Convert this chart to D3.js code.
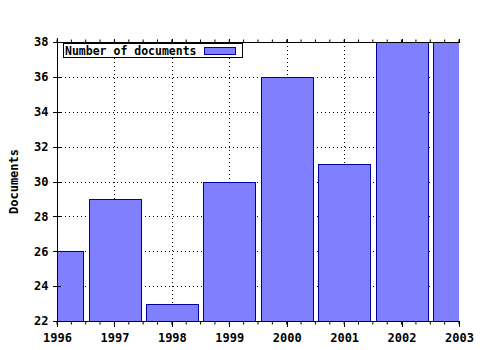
<!DOCTYPE html>
<html>
<head>
<meta charset="utf-8">
<script src="https://cdn.jsdelivr.net/npm/d3@7"></script>
<style>
  body { margin: 0; background: #fff; }
  text { font-family: "DejaVu Sans Mono", "Liberation Mono", monospace; font-weight: bold; }
</style>
</head>
<body>
<svg id="chart" width="480" height="350"></svg>
<script>
const years = [1996, 1997, 1998, 1999, 2000, 2001, 2002, 2003]
const documents = [26, 29, 23, 30, 36, 31, 38, 38]
const yTicks = [22, 24, 26, 28, 30, 32, 34, 36, 38]
const seriesName = 'Number of documents'

const pL = 57, pR = 459, pT = 42, pB = 321
const svg = d3.select('#chart')

const x = d3.scaleLinear().domain([1996, 2003]).range([pL, pR])
const y = d3.scaleLinear().domain([22, 38]).range([pB, pT])
const barW = (x(1997) - x(1996)) * 0.9

svg.append('clipPath').attr('id', 'plot')
  .append('rect').attr('x', pL).attr('y', pT).attr('width', pR - pL).attr('height', pB - pT)

// grid
const grid = svg.append('g').attr('stroke', '#000').attr('stroke-dasharray', '1,3').attr('shape-rendering', 'crispEdges')
grid.selectAll('.gy').data(yTicks.slice(1, -1)).enter().append('line')
  .attr('x1', pL).attr('x2', pR).attr('y1', d => y(d) + 0.5).attr('y2', d => y(d) + 0.5)
grid.selectAll('.gx').data(years.slice(1, -1)).enter().append('line')
  .attr('y1', pT).attr('y2', pB).attr('x1', d => Math.round(x(d)) + 0.5).attr('x2', d => Math.round(x(d)) + 0.5)

// bars
svg.append('g').attr('clip-path', 'url(#plot)')
  .selectAll('rect').data(years).enter().append('rect')
  .attr('x', d => Math.round(x(d) - barW / 2) + 0.5)
  .attr('y', (d, i) => Math.round(y(documents[i])) + 0.5)
  .attr('width', Math.round(barW))
  .attr('height', (d, i) => Math.round(y(22) - y(documents[i])))
  .attr('fill', '#8080ff')
  .attr('stroke', '#0000a0')

// axes
const minor = d3.range(1996, 2003.01, 0.25)
const bottomAxis = d3.axisBottom(x).tickValues(years).tickFormat(d3.format('d')).tickSize(5).tickPadding(7)
const gb = svg.append('g').attr('transform', `translate(0,${pB + 0.5})`).call(bottomAxis)
gb.select('.domain').attr('d', `M${pL},0H${pR + 1}`)
gb.selectAll('.minor').data(minor).enter().append('line')
  .attr('x1', d => x(d)).attr('x2', d => x(d)).attr('y1', 0).attr('y2', 3).attr('stroke', '#000')

const gt = svg.append('g').attr('transform', `translate(0,${pT + 0.5})`)
  .call(d3.axisTop(x).tickValues(years).tickFormat('').tickSize(4))
gt.select('.domain').attr('d', `M${pL},0H${pR + 1}`)
gt.selectAll('.minor').data(minor).enter().append('line')
  .attr('x1', d => x(d)).attr('x2', d => x(d)).attr('y1', 0).attr('y2', -3).attr('stroke', '#000')

const gl = svg.append('g').attr('transform', `translate(${pL + 0.5},0)`)
  .call(d3.axisLeft(y).tickValues(yTicks).tickSize(5).tickPadding(4))
gl.select('.domain').attr('d', `M0,${pT - 4}V${pB}`)
gl.selectAll('.tick line').attr('x2', -5).attr('x1', 3)

svg.selectAll('.tick text').attr('font-size', 12).attr('fill', '#000')
  .attr('font-family', '"DejaVu Sans Mono", monospace').attr('font-weight', 'bold')
svg.selectAll('.domain, .tick line').attr('shape-rendering', 'crispEdges')

svg.append('text').attr('transform', `translate(18,${(pT + pB) / 2}) rotate(-90)`)
  .attr('text-anchor', 'middle').attr('font-size', 12).text('Documents')

// legend
const lg = svg.append('g')
lg.append('rect').attr('x', 63.5).attr('y', 43.5).attr('width', 179).attr('height', 14)
  .attr('fill', '#fff').attr('stroke', '#000')
lg.append('text').attr('x', 65).attr('y', 55).attr('font-size', 11.5).text(seriesName)
lg.append('rect').attr('x', 204.5).attr('y', 47.5).attr('width', 31).attr('height', 7)
  .attr('fill', '#8080ff').attr('stroke', '#0000a0')
</script>
</body>
</html>
